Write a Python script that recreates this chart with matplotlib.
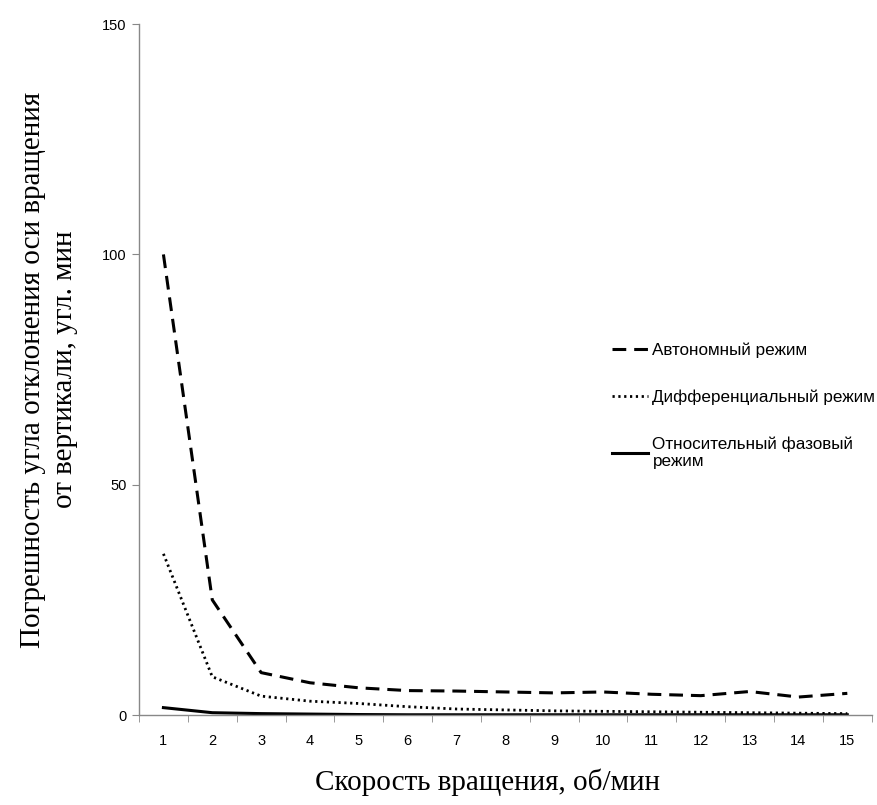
import matplotlib.pyplot as plt
import numpy as np

speed = list(range(1, 16))
autonom = [100, 25, 9.2, 7, 5.9, 5.3, 5.2, 5.0, 4.8, 5.0, 4.5, 4.2, 5.1, 3.9, 4.7]
diff = [35, 8.3, 4.1, 3.0, 2.5, 1.8, 1.3, 1.1, 0.9, 0.8, 0.7, 0.6, 0.5, 0.4, 0.3]
phase = [1.6, 0.5, 0.3, 0.2, 0.1, 0.05, 0.05, 0.05, 0.05, 0.05, 0.05, 0.05, 0.05, 0.05, 0.05]
labels = ['Автономный режим', 'Дифференциальный режим', 'Относительный фазовый\nрежим']

plt.rcParams['font.family'] = ['Liberation Sans', 'DejaVu Sans']

fig = plt.figure(figsize=(8.77, 8.05), dpi=100)
ax = fig.add_axes([0.1585, 0.1118, 0.8355, 0.8582])

ax.plot(speed, autonom, color='black', lw=2.2, linestyle=(0, (4.5, 2.6)), label=labels[0])
ax.plot(speed, diff, color='black', lw=2.0, linestyle=(0, (0.8, 1.3)), label=labels[1])
ax.plot(speed, phase, color='black', lw=2.2, linestyle='-', label=labels[2])

ax.set_xlim(0.5, 15.5)
ax.set_ylim(0, 150)
ax.set_yticks([0, 50, 100, 150])
ax.set_xticks(speed)
ax.set_xticks(np.arange(0.5, 16, 1), minor=True)
ax.tick_params(axis='x', which='major', length=0, labelsize=10.5, pad=14)
ax.tick_params(axis='x', which='minor', length=5, color='#888888', direction='out')
ax.tick_params(axis='y', length=5, color='#888888', labelsize=10.5, pad=4)

for s in ['top', 'right']:
    ax.spines[s].set_visible(False)
for s in ['left', 'bottom']:
    ax.spines[s].set_color('#888888')
    ax.spines[s].set_linewidth(1.0)

ax.set_xlabel('Скорость вращения, об/мин', family=['Liberation Serif'], fontsize=21)
ax.set_ylabel('Погрешность угла отклонения оси вращения\nот вертикали, угл. мин',
              family=['Liberation Serif'], fontsize=21, linespacing=1.3)
# label positions in axes fraction
ax.xaxis.set_label_coords(0.476, -0.078)
ax.yaxis.set_label_coords(-0.083, 0.5)

ax.legend(loc='upper left', bbox_to_anchor=(0.625, 0.562), frameon=False,
          fontsize=12.3, handlelength=2.1, labelspacing=1.85, handletextpad=0.25)

fig.savefig('out.png', dpi=100)
